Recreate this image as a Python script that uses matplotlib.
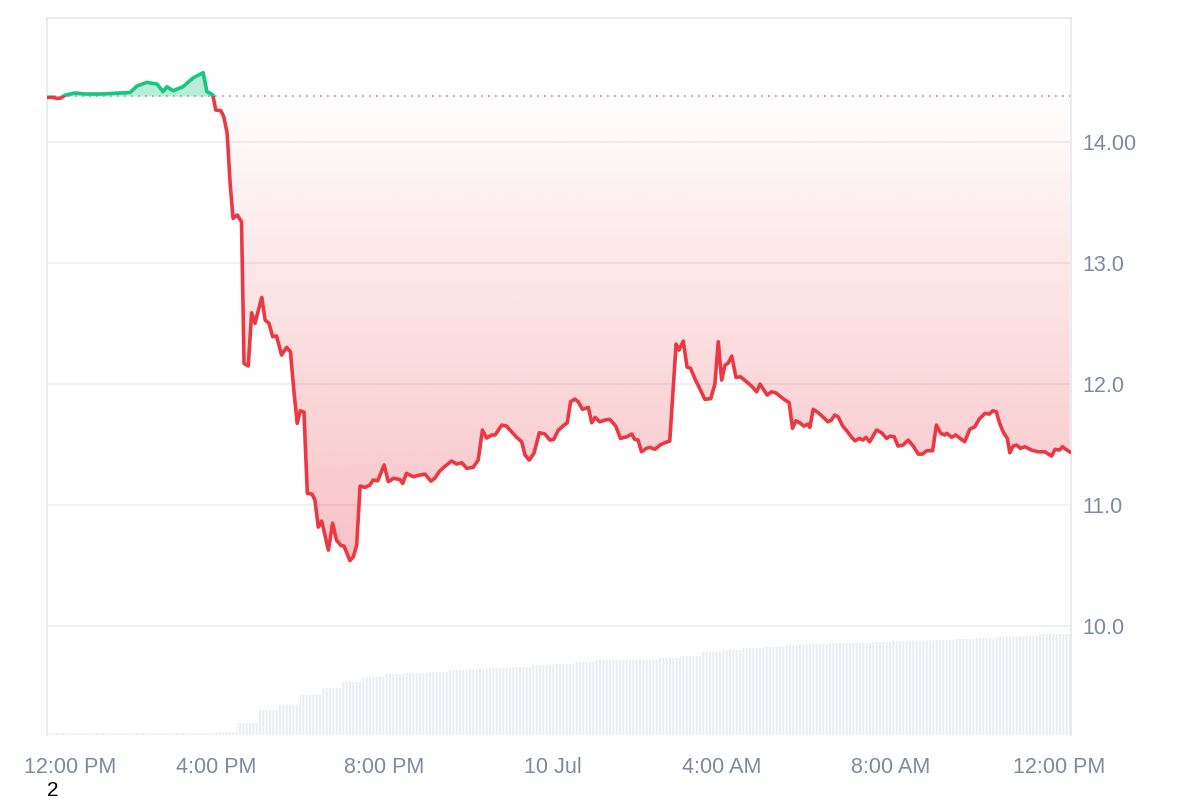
import numpy as np
import matplotlib
matplotlib.use("Agg")
import matplotlib.pyplot as plt
from matplotlib.patches import Rectangle
from matplotlib.path import Path
from matplotlib.transforms import ScaledTranslation

plt.rcParams['font.family'] = ['Liberation Sans', 'DejaVu Sans']

# ---- data: hours since 12:00 PM (9 Jul) and price ----
hours = [0.00, 0.12, 0.24, 0.33, 0.43, 0.66, 0.90, 1.26, 1.73, 1.97, 2.13, 2.37, 2.61, 2.75, 2.84,
         2.99, 3.22, 3.46, 3.70, 3.79, 3.86, 3.93, 4.00, 4.12, 4.19, 4.27, 4.34, 4.41, 4.51, 4.61,
         4.67, 4.77, 4.85, 4.93, 5.09, 5.17, 5.26, 5.35, 5.44, 5.56, 5.68, 5.77, 5.85, 5.93, 6.00,
         6.09, 6.17, 6.28, 6.35, 6.43, 6.51, 6.67, 6.77, 6.86, 6.97, 7.04, 7.18, 7.26, 7.34, 7.42,
         7.54, 7.65, 7.73, 7.84, 7.99, 8.09, 8.21, 8.36, 8.43, 8.52, 8.68, 8.84, 8.96, 9.10, 9.19,
         9.31, 9.47, 9.59, 9.71, 9.83, 9.95, 10.10, 10.22, 10.32, 10.42, 10.54, 10.62, 10.78, 10.89,
         11.01, 11.13, 11.25, 11.33, 11.43, 11.54, 11.67, 11.80, 11.92, 12.01, 12.12, 12.23, 12.33,
         12.41, 12.51, 12.59, 12.69, 12.83, 12.91, 12.99, 13.10, 13.22, 13.34, 13.48, 13.59, 13.74,
         13.86, 13.93, 14.01, 14.09, 14.21, 14.29, 14.41, 14.53, 14.64, 14.76, 14.91, 14.98, 15.08,
         15.17, 15.25, 15.36, 15.47, 15.59, 15.73, 15.83, 15.91, 15.99, 16.07, 16.14, 16.23, 16.33,
         16.44, 16.58, 16.70, 16.82, 16.90, 16.99, 17.07, 17.17, 17.27, 17.39, 17.49, 17.59, 17.67,
         17.75, 17.84, 17.94, 18.04, 18.08, 18.16, 18.28, 18.40, 18.51, 18.59, 18.67, 18.75, 18.86,
         18.96, 19.07, 19.15, 19.25, 19.34, 19.41, 19.50, 19.66, 19.78, 19.90, 19.98, 20.08, 20.17,
         20.29, 20.41, 20.53, 20.65, 20.75, 20.85, 20.99, 21.08, 21.18, 21.28, 21.33, 21.44, 21.54,
         21.64, 21.75, 21.87, 21.99, 22.09, 22.23, 22.33, 22.42, 22.50, 22.58, 22.66, 22.76, 22.82,
         22.90, 22.98, 23.07, 23.18, 23.33, 23.49, 23.65, 23.81, 23.89, 24.00, 24.07, 24.15, 24.24]

prices = [14.368, 14.372, 14.360, 14.364, 14.388, 14.405, 14.397, 14.397, 14.405, 14.409, 14.463,
          14.493, 14.479, 14.416, 14.457, 14.424, 14.457, 14.529, 14.573, 14.416, 14.405, 14.388,
          14.264, 14.259, 14.209, 14.072, 13.659, 13.369, 13.397, 13.341, 12.171, 12.149, 12.589,
          12.502, 12.717, 12.529, 12.502, 12.391, 12.397, 12.240, 12.303, 12.267, 11.950, 11.675,
          11.779, 11.769, 11.097, 11.091, 11.041, 10.818, 10.868, 10.628, 10.851, 10.711, 10.665,
          10.661, 10.541, 10.573, 10.669, 11.157, 11.146, 11.165, 11.207, 11.201, 11.331, 11.193,
          11.221, 11.212, 11.179, 11.262, 11.234, 11.248, 11.256, 11.198, 11.221, 11.283, 11.331,
          11.364, 11.339, 11.350, 11.303, 11.312, 11.372, 11.620, 11.554, 11.579, 11.579, 11.661,
          11.653, 11.606, 11.560, 11.523, 11.413, 11.372, 11.427, 11.598, 11.587, 11.537, 11.543,
          11.620, 11.653, 11.680, 11.854, 11.876, 11.854, 11.791, 11.807, 11.680, 11.725, 11.688,
          11.702, 11.708, 11.653, 11.551, 11.564, 11.587, 11.543, 11.537, 11.440, 11.469, 11.477,
          11.461, 11.496, 11.515, 11.529, 12.331, 12.281, 12.355, 12.140, 12.132, 12.041, 11.964,
          11.874, 11.879, 12.000, 12.350, 12.033, 12.157, 12.171, 12.231, 12.055, 12.060, 12.019,
          11.983, 11.936, 12.000, 11.950, 11.909, 11.936, 11.928, 11.895, 11.868, 11.846, 11.634,
          11.697, 11.680, 11.653, 11.669, 11.642, 11.791, 11.763, 11.725, 11.688, 11.702, 11.744,
          11.730, 11.653, 11.612, 11.560, 11.531, 11.551, 11.537, 11.560, 11.523, 11.620, 11.598,
          11.551, 11.570, 11.564, 11.488, 11.496, 11.537, 11.488, 11.421, 11.421, 11.449, 11.449,
          11.661, 11.593, 11.579, 11.593, 11.560, 11.579, 11.551, 11.523, 11.626, 11.647, 11.708,
          11.758, 11.752, 11.779, 11.771, 11.675, 11.606, 11.551, 11.432, 11.488, 11.496, 11.469,
          11.482, 11.455, 11.440, 11.440, 11.405, 11.460, 11.455, 11.482, 11.460, 11.440]

open_price = 14.38

# volume (cumulative, arbitrary units) per half-hour bin starting at these hours
vol_hours = [0.0, 0.5, 1.0, 1.5, 2.0, 2.5, 3.0, 3.5, 4.0, 4.5, 5.0, 5.5, 6.0, 6.5, 7.0, 7.5, 8.0,
             8.5, 9.0, 9.5, 10.0, 10.5, 11.0, 11.5, 12.0, 12.5, 13.0, 13.5, 14.0, 14.5, 15.0, 15.5,
             16.0, 16.5, 17.0, 17.5, 18.0, 18.5, 19.0, 19.5, 20.0, 20.5, 21.0, 21.5, 22.0, 22.5,
             23.0, 23.5, 24.0]
volume = [2, 2, 2, 2, 2, 2, 2, 2, 3, 12, 25, 30, 40, 47, 53, 58, 61, 62, 63, 65, 66, 67, 68, 70,
          71, 73, 75, 75, 75, 77, 79, 83, 85, 87, 88, 90, 91, 92, 92, 93, 94, 94, 95, 96, 97, 98,
          99, 101, 101]

xtick_hours = [0, 4, 8, 12, 16, 20, 24]
xtick_labels = ["12:00 PM", "4:00 PM", "8:00 PM", "10 Jul", "4:00 AM", "8:00 AM", "12:00 PM"]
ytick_vals = [10, 11, 12, 13, 14]
ytick_labels = ["10.0", "11.0", "12.0", "13.0", "14.00"]

RED = "#ea3943"
GREEN = "#16c784"
GRID = "#eff1f4"
TXT = "#808a9d"

t = np.array(hours)
p = np.array(prices)
XMAX = 24.27
YMIN, YMAX = 9.10, 15.025

fig = plt.figure(figsize=(12, 8), dpi=100)
pos = [47/1200, 65/800, (1071-47)/1200, (735-18)/800]

# volume axes (behind)
axv = fig.add_axes(pos, zorder=0)
axv.bar(vol_hours, volume, width=0.5, align='edge', color="#e9ecf2", edgecolor="white",
        linewidth=0, hatch="|" * 5)
axv.set_xlim(0, XMAX)
axv.set_ylim(0, 717)
axv.axis('off')

ax = fig.add_axes(pos, zorder=1)
ax.patch.set_alpha(0)

for v in ytick_vals:
    ax.axhline(v, color=GRID, lw=1.5, zorder=0)

# green fill above open
ax.fill_between(t, p, open_price, where=p >= open_price, interpolate=True,
                color=GREEN, alpha=0.3, lw=0, zorder=1)

# red gradient fill between open and price (below open)
poly = ax.fill_between(t, p, open_price, where=p <= open_price, interpolate=True,
                       color='none', lw=0, zorder=1)
pmin = p.min()
grad = np.linspace(0, 1, 256).reshape(-1, 1)   # 0 at top -> 1 at bottom
rgba = np.zeros((256, 1, 4))
rgba[..., :3] = matplotlib.colors.to_rgb(RED)
rgba[..., 3] = 0.01 + 0.30 * grad
img = ax.imshow(rgba, extent=[0, XMAX, pmin, open_price], origin='upper', aspect='auto', zorder=1)
cp = Path.make_compound_path(*poly.get_paths())
img.set_clip_path(cp, transform=ax.transData)
ax.set_xlim(0, XMAX)
ax.set_ylim(YMIN, YMAX)

# baseline
ax.axhline(open_price, color="#9aa0ad", lw=1.2, ls=(0, (1, 3.2)), zorder=2)

# price line split at open price
lr, = ax.plot(t, p, color=RED, lw=2.6, zorder=3, solid_joinstyle='round')
lr.set_clip_path(Rectangle((0, YMIN), XMAX, open_price - YMIN, transform=ax.transData))
lg, = ax.plot(t, p, color=GREEN, lw=2.6, zorder=3, solid_joinstyle='round')
lg.set_clip_path(Rectangle((0, open_price), XMAX, YMAX - open_price, transform=ax.transData))

# spines
for s in ['left', 'right', 'top']:
    ax.spines[s].set_color("#e6e8ec")
    ax.spines[s].set_linewidth(1.2)
ax.spines['bottom'].set_visible(False)

ax.yaxis.tick_right()
ax.set_yticks(ytick_vals)
ax.set_yticklabels(ytick_labels)
ax.set_xticks(xtick_hours)
ax.set_xticklabels(xtick_labels)
ax.tick_params(axis='both', length=0, labelsize=15.5, labelcolor=TXT)
ax.tick_params(axis='y', pad=8)
ax.tick_params(axis='x', pad=16)

lbls = ax.get_xticklabels()
lbls[0].set_transform(lbls[0].get_transform() + ScaledTranslation(0.23, 0, fig.dpi_scale_trans))

fig.text(53/1200, 1 - 791/800, "2", ha='center', va='center', color='black', fontsize=15)

fig.savefig("out.png", dpi=100)
